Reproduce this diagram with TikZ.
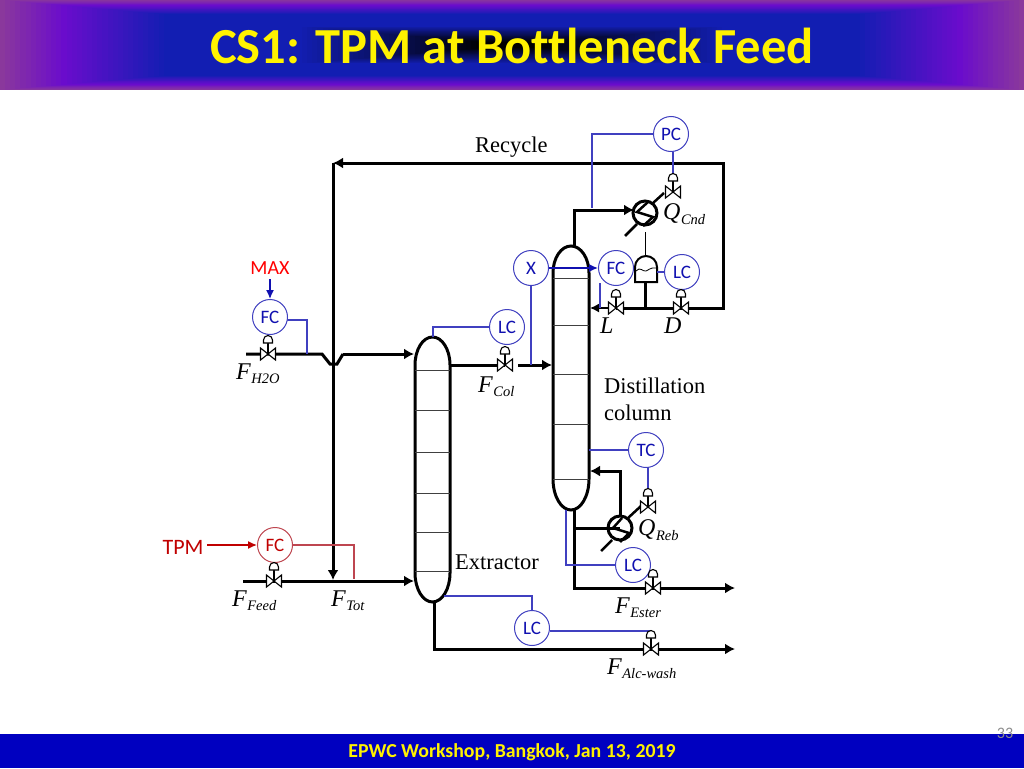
\documentclass[tikz,border=0pt]{standalone}
\usepackage{fontspec}
\setmainfont{Liberation Serif}
\newfontfamily\calibrifont[Ligatures=NoCommon]{Carlito}
\usetikzlibrary{positioning,backgrounds,arrows.meta}

\definecolor{hdrEdge}{RGB}{138,56,156}
\definecolor{hdrPurple}{RGB}{106,12,204}
\definecolor{hdrBlue}{RGB}{18,30,178}
\definecolor{sigBlue}{RGB}{64,64,192}
\definecolor{txtBlue}{RGB}{16,16,176}
\definecolor{tpmRed}{RGB}{192,0,0}
\definecolor{sigRed}{RGB}{190,70,80}
\definecolor{footBlue}{RGB}{0,0,192}

\newcommand{\streamlbl}[2]{\textit{#1\kern0.5pt\raisebox{-0.4ex}{\fontsize{14.5}{15}\selectfont #2}}}

\tikzset{
	ctrl/.style={circle, draw=sigBlue, line width=1pt, fill=white, minimum size=35pt, inner sep=0pt, text=txtBlue, font=\calibrifont\fontsize{19}{19}\selectfont},
	ctrlred/.style={ctrl, draw=sigRed, text=tpmRed},
	stream/.style={line width=3pt},
	streamtip/.style={line width=3pt, -{Latex[length=10pt,width=11pt]}},
	signal/.style={line width=1.2pt, draw=sigBlue},
	signalred/.style={line width=1.2pt, draw=sigRed},
	sigtip/.style={line width=1.4pt, -{Latex[length=9pt,width=8pt]}},
	tray/.style={line width=1pt, draw=black!75},
	lbl/.style={inner sep=0pt, anchor=west, font=\fontsize{22.5}{24}\selectfont},
	strlbl/.style={inner sep=0pt, anchor=west, font=\fontsize{24}{24}\selectfont},
	valve/.pic={
		\coordinate (-body) at (0,0);
		\coordinate (-act) at (0,-18);
		\draw[line width=1.1pt] (0,0) -- (0,-11);
		\draw[line width=1.1pt, fill=white] (-7.5,-6) -- (7.5,6) -- (7.5,-6) -- (-7.5,6) -- cycle;
		\draw[line width=1.1pt, fill=white] (-4.5,-11) -- (4.5,-11) -- (4.5,-14) arc[start angle=0, end angle=180, radius=4.5pt] -- cycle;
	}
}

\begin{document}
\begin{tikzpicture}[x=1pt,y=-1pt]
\useasboundingbox (0,0) rectangle (1024,768);

% header
\foreach \f in {0,...,11} {
	\pgfmathsetmacro\m{100*\f/12}
	\fill[hdrPurple!\m!hdrEdge] (5.12*\f,0.45*\f) rectangle (1024-5.12*\f,90-0.45*\f);
}
\foreach \f in {12,...,31} {
	\pgfmathsetmacro\m{100*(\f-12)/20}
	\fill[hdrBlue!\m!hdrPurple] (5.12*\f,0.45*\f) rectangle (1024-5.12*\f,90-0.45*\f);
}
\foreach \f in {32,...,94} {
	\pgfmathsetmacro\m{\f<58 ? 0 : 100*(\f-58)/36}
	\fill[black!\m!hdrBlue] (5.12*\f,0.45*\f) rectangle (1024-5.12*\f,90-0.45*\f);
}
\node[text=yellow, font=\calibrifont\bfseries\fontsize{50.5}{51}\selectfont] (title) at (512,46) {CS1: TPM at Bottleneck Feed};

% footer
\fill[footBlue] (0,734) rectangle (1024,768);
\node[text=yellow, font=\calibrifont\bfseries\fontsize{19.8}{20}\selectfont] (foot) at (512,752) {EPWC Workshop, Bangkok, Jan 13, 2019};
\node[text=black!45, font=\calibrifont\fontsize{16}{16}\selectfont] (pagenum) at (1005,733) {33};

% controllers
\node[ctrl] (PC) at (671,134) {PC};
\node[ctrl] (X) at (531,268) {X};
\node[ctrl] (FCrefl) at (616,268) {FC};
\node[ctrl] (LCdrum) at (682,272) {LC};
\node[ctrl] (FCwat) at (270,317) {FC};
\node[ctrl] (LCext) at (507,327) {LC};
\node[ctrl] (TC) at (646,450) {TC};
\node[ctrl] (LCbot) at (633,565) {LC};
\node[ctrl] (LCwash) at (532,628) {LC};
\node[ctrlred] (FCfeed) at (275,545) {FC};

% valves
\pic (vQcnd) at (673,192) {valve};
\pic (vL) at (616,308) {valve};
\pic (vD) at (681,308) {valve};
\pic (vWat) at (268,354) {valve};
\pic (vCol) at (505,365) {valve};
\pic (vQreb) at (648,507) {valve};
\pic (vFeed) at (274,581) {valve};
\pic (vEster) at (653,588) {valve};
\pic (vWash) at (651,649) {valve};

% fixed points
\coordinate (extTop) at (433,337);
\coordinate (extBot) at (434,602);
\coordinate (colTop) at (574,246);
\coordinate (colBot) at (574,510);
\coordinate (cnd) at (645,213);
\coordinate (reb) at (620,528);
\coordinate (drumTop) at (645,256);
\coordinate (drumBot) at (645,282);
\coordinate (recEnd) at (723,308);
\coordinate (recCorner) at (723,163);
\coordinate (recLeft) at (333,163);

\begin{pgfonlayer}{background}
% columns
\draw[line width=3pt] (415,365) arc[start angle=180, end angle=0, x radius=17.5pt, y radius=28pt] -- (450,573) arc[start angle=0, end angle=-180, x radius=17.5pt, y radius=29pt] -- cycle;
\foreach \y in {370,410,452,493,532,571}
	\draw[tray] (415,\y) -- (450,\y);
\draw[line width=3pt] (553,273) arc[start angle=180, end angle=0, x radius=18pt, y radius=27pt] -- (589,479) arc[start angle=0, end angle=-180, x radius=18pt, y radius=31pt] -- cycle;
\foreach \y in {278,325,374,424,479}
	\draw[tray] (553,\y) -- (589,\y);

% condenser and reboiler
\draw[line width=3pt] (cnd) circle[radius=12pt];
\draw[line width=2.5pt] (625,236) -- (637,224);
\draw[line width=2.5pt] (653,203) -- (664,193);
\draw[line width=2.5pt] (648,202) -- (637,212) -- (653,217) -- (643,226);
\draw[line width=3pt] (reb) circle[radius=12pt];
\draw[line width=2.5pt] (601,551) -- (612,540);
\draw[line width=2.5pt] (628,518) -- (641,506);
\draw[line width=2.5pt] (622,518) -- (613,528) -- (629,533) -- (620,542);

% drum
\draw[line width=2pt] (635,282) -- (635,267) arc[start angle=180, end angle=0, x radius=11pt, y radius=11pt] -- (657,282) -- cycle;
\draw[line width=0.8pt] (636,271) .. controls (640,266) and (643,272) .. (646,271) .. controls (649,270) and (651,267) .. (656,268);
\draw[line width=1pt] (cnd) ++(0,19) -- (drumTop);
\draw[stream] (drumBot) -- (645,308);

% main lines
\draw[streamtip] (colTop) -- (574,210) -- (634,210);
\draw[streamtip] (vL-body -| vD-body) -- (recEnd) -- (recCorner) -- (recLeft);
\draw[stream] (vL-body) -- (vD-body);
\draw[line width=1.5pt, -{Latex[length=9pt,width=9pt]}] (vL-body) -- (590,308);
\draw[streamtip] (recLeft) -- (333,580);
\draw[stream] (246,354) -- (vWat-body) -- (322,354) -- (330,364) -- (337,364) -- (343,354);
\draw[streamtip] (343,354) -- (414,354);
\draw[streamtip] (243,581) -- (vFeed-body) -- (414,581);
\draw[stream] (450,365) -- (vCol-body);
\draw[streamtip] (518,365) -- (552,365);
\draw[stream] (colBot) -- (574,588) -- (vEster-body);
\draw[streamtip] (vEster-body) -- (735,588);
\draw[stream] (574,528) -- (reb);
\draw[streamtip] (620,516) -- (620,471) -- (590,471);
\draw[stream] (extBot) -- (434,649) -- (vWash-body);
\draw[streamtip] (vWash-body) -- (735,649);

% signals
\draw[signal] (PC.west) -| (592,208);
\draw[signal] (vQcnd-act |- PC.south) -- (vQcnd-act);
\draw[signal] (531,285) -- (531,365);
\draw[sigtip, draw=txtBlue, fill=txtBlue] (X.east) -- (FCrefl.west);
\draw[signal] (LCdrum.west) -- (657,272);
\draw[signal] (600,283) -- (600,308);
\draw[signal] (LCext.west) -| (extTop);
\draw[signal] (287,320) -| (307,354);
\draw[sigtip, draw=txtBlue, fill=txtBlue] (270,279) -- (FCwat.north);
\draw[signal] (TC.west) -- (589,450);
\draw[signal] (vQreb-act |- 0,467) -- (vQreb-act);
\draw[signal] (LCbot.west) -| (566,510);
\draw[signal] (LCwash.north) |- (444,596);
\draw[signal] (LCwash.east |- vWash-act) -- (vWash-act);
\draw[sigtip, draw=tpmRed, fill=tpmRed] (207,545) -- (FCfeed.west);
\draw[signalred] (FCfeed.east) -- (354,545) -- (354,579);
\end{pgfonlayer}

% labels
\node[lbl] (lblRec) at (475,147) {Recycle};
\node[lbl, align=left, font=\fontsize{22.5}{27}\selectfont] (lblDist) at (604,399) {Distillation\\column};
\node[lbl] (lblExt) at (455,562) {Extractor};
\node[strlbl] (lblL) at (600,326) {\textit{L}};
\node[strlbl] (lblD) at (664,326) {\textit{D}};
\node[strlbl] (lblQc) at (663,214) {\streamlbl{Q}{Cnd}};
\node[strlbl] (lblQr) at (638,530) {\streamlbl{Q}{Reb}};
\node[strlbl] (lblFw) at (236,374) {\streamlbl{F}{H2O}};
\node[strlbl] (lblFc) at (478,387) {\streamlbl{F}{Col}};
\node[strlbl] (lblFf) at (232,601) {\streamlbl{F}{Feed}};
\node[strlbl] (lblFt) at (331,601) {\streamlbl{F}{Tot}};
\node[strlbl] (lblFe) at (615,608) {\streamlbl{F}{Ester}};
\node[strlbl] (lblFa) at (607,669) {\streamlbl{F}{Alc-wash}};
\node[text=red, font=\calibrifont\fontsize{20}{20}\selectfont] (lblMax) at (270,268) {MAX};
\node[text=tpmRed, font=\calibrifont\fontsize{22}{22}\selectfont] (lblTpm) at (183,547) {TPM};
\end{tikzpicture}
\end{document}
